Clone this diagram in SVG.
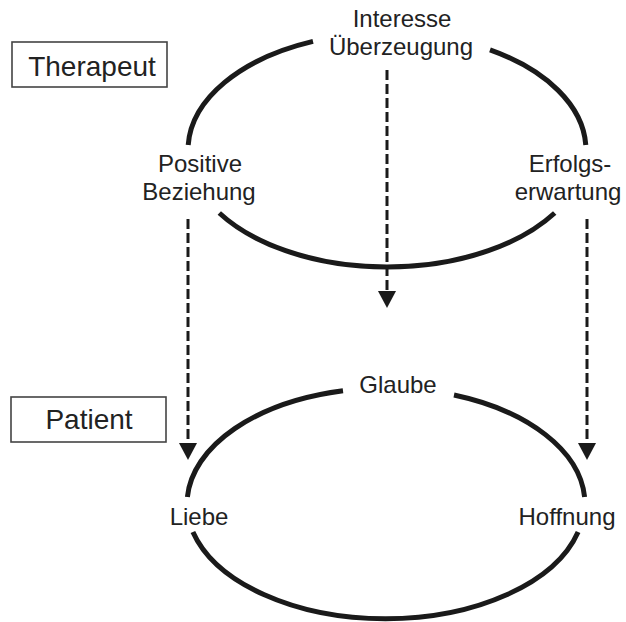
<svg xmlns="http://www.w3.org/2000/svg" width="626" height="622" viewBox="0 0 626 622">
<style>
text{font-family:"Liberation Sans",Arial,sans-serif;fill:#222;text-anchor:middle}
.lbl{font-size:24px}
.box{font-size:28px}
.frame{fill:#fff;stroke:#444;stroke-width:1.6}
.arc{fill:none;stroke:#1a1a1a;stroke-width:5}
.dash{fill:none;stroke:#1a1a1a;stroke-width:3;stroke-dasharray:10 4}
</style>
<defs>
<marker id="ah" viewBox="0 0 17 18" refX="9" refY="9" markerWidth="17" markerHeight="18" markerUnits="userSpaceOnUse" orient="auto">
<path d="M0,0 L17,9 L0,18 z" fill="#1a1a1a"/>
</marker>
</defs>
<rect width="626" height="622" fill="#fff"/>
<g id="therapeut">
<rect class="frame" x="12" y="42" width="155" height="45"/>
<text class="box" x="92" y="76">Therapeut</text>
</g>
<g id="patient">
<rect class="frame" x="11" y="397" width="155" height="45"/>
<text class="box" x="89" y="429">Patient</text>
</g>
<g id="therapist-cycle">
<path class="arc" d="M313,41.4 A199,117 0 0 0 188.2,145"/>
<path class="arc" d="M219.3,213 A199,117 0 0 0 554.7,213"/>
<path class="arc" d="M585.8,145 A199,117 0 0 0 490,49.9"/>
</g>
<g id="patient-cycle">
<path class="arc" d="M343,390.7 A199,116 0 0 0 187.4,497"/>
<path class="arc" d="M192.9,532 A199,116 0 0 0 578.1,532"/>
<path class="arc" d="M584.6,497 A199,116 0 0 0 454,395"/>
</g>
<g id="interesse">
<text class="lbl" x="402" y="27">Interesse</text>
<text class="lbl" x="401" y="55">Überzeugung</text>
</g>
<g id="beziehung">
<text class="lbl" x="200" y="172">Positive</text>
<text class="lbl" x="199" y="200">Beziehung</text>
</g>
<g id="erfolg">
<text class="lbl" x="570" y="172">Erfolgs-</text>
<text class="lbl" x="568" y="200">erwartung</text>
</g>
<g id="glaube"><text class="lbl" x="398" y="393">Glaube</text></g>
<g id="liebe"><text class="lbl" x="199" y="525">Liebe</text></g>
<g id="hoffnung"><text class="lbl" x="567" y="525">Hoffnung</text></g>
<g id="connectors">
<line class="dash" x1="188" y1="219" x2="188" y2="452" marker-end="url(#ah)"/>
<line class="dash" x1="387" y1="70" x2="387" y2="300" marker-end="url(#ah)"/>
<line class="dash" x1="587" y1="219" x2="587" y2="452" marker-end="url(#ah)"/>
</g>
</svg>
